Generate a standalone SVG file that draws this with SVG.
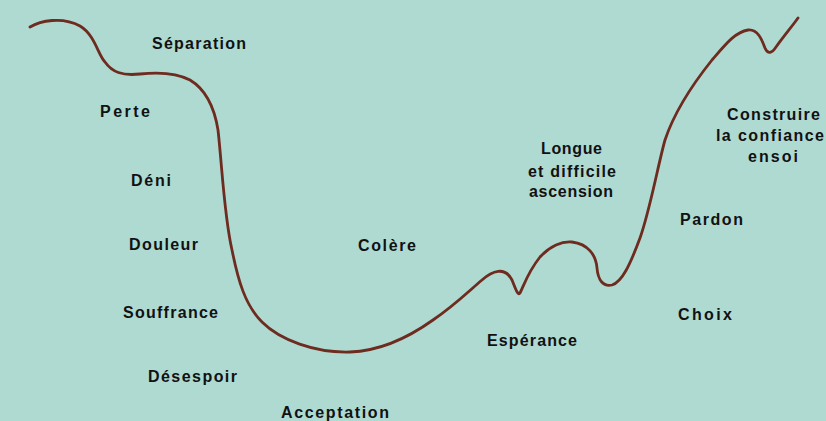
<svg xmlns="http://www.w3.org/2000/svg" width="826" height="421" viewBox="0 0 826 421">
<style>
.bg{fill:#AEDAD1}
.curve{fill:none;stroke:#6E2B1F;stroke-width:2.8;stroke-linecap:round;stroke-linejoin:round}
.lbl{font-family:"Liberation Sans",Arial,sans-serif;font-weight:bold;font-size:16px;fill:#111}
</style>
<rect class="bg" x="0" y="0" width="826" height="421"/>
<g id="connectors">
<path class="curve" d="M30,27 C40,21 62,16 80,26 C95,35 98,55 105,62 C112,72 122,76 140,74 C158,72 175,72 190,80 C205,89 214,105 218,130 C222,165 224,215 232,250 C238,280 245,305 262,322 C280,340 315,353 350,352 C378,351 405,340 433,320 C455,305 470,290 482,280 C492,271 505,266 512,280 C516,290 518,296 520,293 C524,285 528,272 540,257 C550,246 562,241 572,242 C588,244 596,255 597,268 C598,280 603,287 612,285 C622,282 630,265 640,238 C650,210 658,165 665,140 C675,110 692,85 712,60 C725,45 735,32 748,30 C758,29 762,40 765,48 C768,55 772,53 776,47 C784,36 793,25 798,18"/>
</g>
<g id="n-separation"><text class="lbl" x="152" y="49" textLength="94" lengthAdjust="spacing">Séparation</text></g>
<g id="n-perte"><text class="lbl" x="100" y="117" textLength="50" lengthAdjust="spacing">Perte</text></g>
<g id="n-deni"><text class="lbl" x="131" y="186" textLength="40" lengthAdjust="spacing">Déni</text></g>
<g id="n-douleur"><text class="lbl" x="129" y="250" textLength="69" lengthAdjust="spacing">Douleur</text></g>
<g id="n-souffrance"><text class="lbl" x="123" y="318" textLength="95" lengthAdjust="spacing">Souffrance</text></g>
<g id="n-desespoir"><text class="lbl" x="148" y="382" textLength="89" lengthAdjust="spacing">Désespoir</text></g>
<g id="n-acceptation"><text class="lbl" x="281" y="418" textLength="108" lengthAdjust="spacing">Acceptation</text></g>
<g id="n-colere"><text class="lbl" x="358" y="251" textLength="58" lengthAdjust="spacing">Colère</text></g>
<g id="n-esperance"><text class="lbl" x="487" y="346" textLength="90" lengthAdjust="spacing">Espérance</text></g>
<g id="n-ascension">
<text class="lbl" x="541" y="154" textLength="61" lengthAdjust="spacing">Longue</text>
<text class="lbl" x="528" y="177" textLength="88" lengthAdjust="spacing">et difficile</text>
<text class="lbl" x="529" y="197" textLength="84" lengthAdjust="spacing">ascension</text>
</g>
<g id="n-pardon"><text class="lbl" x="680" y="225" textLength="63" lengthAdjust="spacing">Pardon</text></g>
<g id="n-choix"><text class="lbl" x="678" y="320" textLength="54" lengthAdjust="spacing">Choix</text></g>
<g id="n-construire">
<text class="lbl" x="727" y="120" textLength="93" lengthAdjust="spacing">Construire</text>
<text class="lbl" x="716" y="141" textLength="108" lengthAdjust="spacing">la confiance</text>
<text class="lbl" x="748" y="162" textLength="50" lengthAdjust="spacing">ensoi</text>
</g>
</svg>
